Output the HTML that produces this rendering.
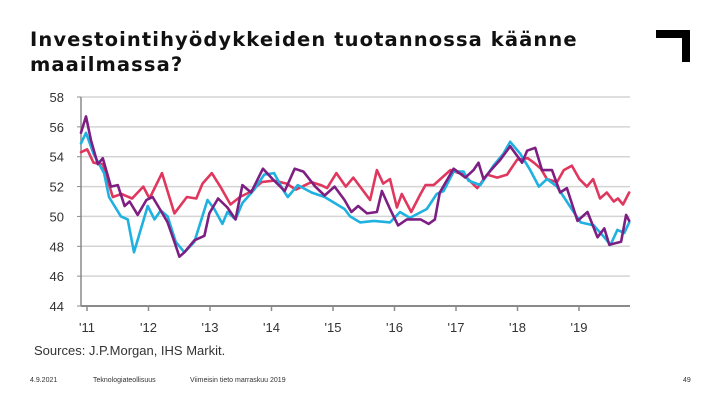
<!DOCTYPE html>
<html><head><meta charset="utf-8"><style>
body{margin:0;background:#fff;}
#wrap{position:relative;width:720px;height:405px;overflow:hidden;background:#fff;font-family:"Liberation Sans",sans-serif;}
#title{position:absolute;left:30px;top:27px;font-family:"DejaVu Sans",sans-serif;font-weight:bold;font-size:19.5px;line-height:25px;color:#111;letter-spacing:1.1px;}
.foot{position:absolute;top:377px;font-size:7px;color:#333;}
</style></head><body>
<div id="wrap">
<div id="title">Investointihyödykkeiden tuotannossa käänne<br>maailmassa?</div>
<div style="position:absolute;left:656px;top:30px;width:34px;height:8px;background:#000"></div>
<div style="position:absolute;left:682px;top:30px;width:8px;height:32px;background:#000"></div>
<svg id="chart" width="720" height="405" style="position:absolute;left:0;top:0"></svg>
<div style="position:absolute;left:34px;top:343px;font-size:13px;color:#333;">Sources: J.P.Morgan, IHS Markit.</div>
<div class="foot" style="left:30px">4.9.2021</div>
<div class="foot" style="left:93px">Teknologiateollisuus</div>
<div class="foot" style="left:190px">Viimeisin tieto marraskuu 2019</div>
<div class="foot" style="left:683px">49</div>
</div>
<script>
const yTicks=[58,56,54,52,50,48,46,44];
const xTickLabels=["'11","'12","'13","'14","'15","'16","'17","'18","'19"];
const redT=[2011.0,2011.1,2011.2,2011.35,2011.51,2011.65,2011.82,2012.0,2012.1,2012.3,2012.5,2012.7,2012.85,2012.95,2013.1,2013.25,2013.4,2013.55,2013.7,2013.9,2014.1,2014.3,2014.45,2014.7,2014.85,2014.95,2015.1,2015.25,2015.37,2015.64,2015.75,2015.85,2015.96,2016.07,2016.15,2016.3,2016.45,2016.53,2016.66,2016.93,2017.14,2017.36,2017.52,2017.68,2017.84,2018.0,2018.17,2018.27,2018.38,2018.48,2018.64,2018.75,2018.88,2019.0,2019.12,2019.22,2019.33,2019.44,2019.55,2019.62,2019.7,2019.8];
const redV=[54.3,54.5,53.6,53.5,51.3,51.5,51.2,52.0,51.2,52.9,50.2,51.3,51.2,52.2,52.9,51.9,50.8,51.3,51.6,52.3,52.4,52.2,51.8,52.3,52.1,51.9,52.9,52.0,52.6,51.1,53.1,52.2,52.5,50.6,51.5,50.3,51.5,52.1,52.1,53.1,52.8,51.9,52.8,52.6,52.8,53.8,53.9,53.6,53.2,52.5,52.3,53.1,53.4,52.5,52.0,52.5,51.2,51.6,51.0,51.2,50.8,51.6];
const cyanT=[2011.0,2011.08,2011.2,2011.37,2011.45,2011.64,2011.75,2011.85,2012.07,2012.18,2012.28,2012.39,2012.52,2012.66,2012.82,2013.03,2013.14,2013.27,2013.35,2013.48,2013.59,2013.78,2013.94,2014.1,2014.24,2014.32,2014.48,2014.7,2014.91,2015.07,2015.23,2015.32,2015.48,2015.7,2015.96,2016.12,2016.28,2016.55,2016.71,2016.82,2016.98,2017.14,2017.22,2017.41,2017.62,2017.78,2017.89,2018.05,2018.21,2018.35,2018.48,2018.64,2018.86,2019.02,2019.23,2019.4,2019.5,2019.61,2019.72,2019.8];
const cyanV=[54.9,55.6,54.2,52.9,51.3,50.0,49.8,47.6,50.7,49.8,50.4,50.0,48.3,47.6,48.3,51.1,50.5,49.5,50.3,49.8,50.9,51.8,52.8,52.9,51.8,51.3,52.1,51.6,51.3,50.9,50.5,50.0,49.6,49.7,49.6,50.3,49.9,50.5,51.5,51.7,53.0,53.0,52.4,52.1,53.4,54.2,55.0,54.2,53.1,52.0,52.5,52.0,50.6,49.6,49.4,48.6,48.1,49.1,48.9,49.6];
const purpleT=[2011.0,2011.08,2011.16,2011.27,2011.35,2011.48,2011.59,2011.7,2011.78,2011.91,2012.05,2012.15,2012.28,2012.39,2012.5,2012.58,2012.66,2012.82,2012.98,2013.06,2013.2,2013.35,2013.48,2013.59,2013.73,2013.92,2014.1,2014.27,2014.43,2014.57,2014.76,2014.91,2015.07,2015.23,2015.34,2015.45,2015.59,2015.75,2015.83,2015.96,2016.09,2016.23,2016.45,2016.58,2016.68,2016.76,2016.98,2017.17,2017.3,2017.38,2017.46,2017.6,2017.73,2017.89,2018.08,2018.16,2018.29,2018.4,2018.56,2018.69,2018.8,2018.97,2019.13,2019.29,2019.4,2019.48,2019.67,2019.75,2019.8];
const purpleV=[55.6,56.7,55.1,53.5,53.9,52.0,52.1,50.7,51.0,50.1,51.1,51.3,50.4,49.6,48.3,47.3,47.6,48.4,48.7,50.2,51.2,50.6,49.8,52.1,51.6,53.2,52.4,51.7,53.2,53.0,52.0,51.4,52.0,51.1,50.3,50.7,50.2,50.3,51.7,50.5,49.4,49.8,49.8,49.5,49.8,51.6,53.2,52.6,53.1,53.6,52.5,53.2,53.8,54.7,53.6,54.4,54.6,53.1,53.1,51.6,51.9,49.7,50.3,48.6,49.2,48.1,48.3,50.1,49.7];

const svg=document.getElementById('chart');
const NS='http://www.w3.org/2000/svg';
const x0=81,x1=630,yTop=97,yBot=306;
function xs(t){return x0+(t-2011)*62.3;}
function ys(v){return yTop+(58-v)*(yBot-yTop)/14;}
function mk(tag,attrs){const e=document.createElementNS(NS,tag);for(const k in attrs)e.setAttribute(k,attrs[k]);svg.appendChild(e);return e;}
yTicks.forEach(v=>{
  const g=mk('line',{x1:x0,x2:x1,y1:ys(v),y2:ys(v),stroke:v===44?'#8a8a8a':'#d4d4d4','stroke-width':v===44?2:1.5});
  
  
  const tk=mk('line',{x1:x0-4,x2:x0,y1:ys(v),y2:ys(v),stroke:'#8a8a8a','stroke-width':1});
  
  
  const t=mk('text',{x:64,y:ys(v)+5,'text-anchor':'end','font-size':'13','fill':'#333','font-family':'Liberation Sans, sans-serif'});
  t.textContent=v;
  
  
});
const ax=mk('line',{x1:x0,x2:x0,y1:yTop,y2:yBot,stroke:'#8a8a8a','stroke-width':1.5});


xTickLabels.forEach((l,i)=>{
  const x=87+i*61.5;
  const tk=mk('line',{x1:x,x2:x,y1:yBot,y2:yBot+5,stroke:'#8a8a8a','stroke-width':1.5});
  
  
  const t=mk('text',{x:x,y:332,'text-anchor':'middle','font-size':'13','fill':'#333','font-family':'Liberation Sans, sans-serif'});
  t.textContent=l;
  
  
});
function line(T,V,color,name){
  const d=T.map((t,i)=>(i?'L':'M')+xs(t).toFixed(1)+','+ys(V[i]).toFixed(1)).join('');
  const p=mk('path',{d:d,fill:'none',stroke:color,'stroke-width':2.6,'stroke-linejoin':'round','stroke-linecap':'round'});
  
  
}
line(redT,redV,'#e0375e','series-red');
line(cyanT,cyanV,'#1fb1e0','series-cyan');
line(purpleT,purpleV,'#7d1f82','series-purple');
</script>
</body></html>
